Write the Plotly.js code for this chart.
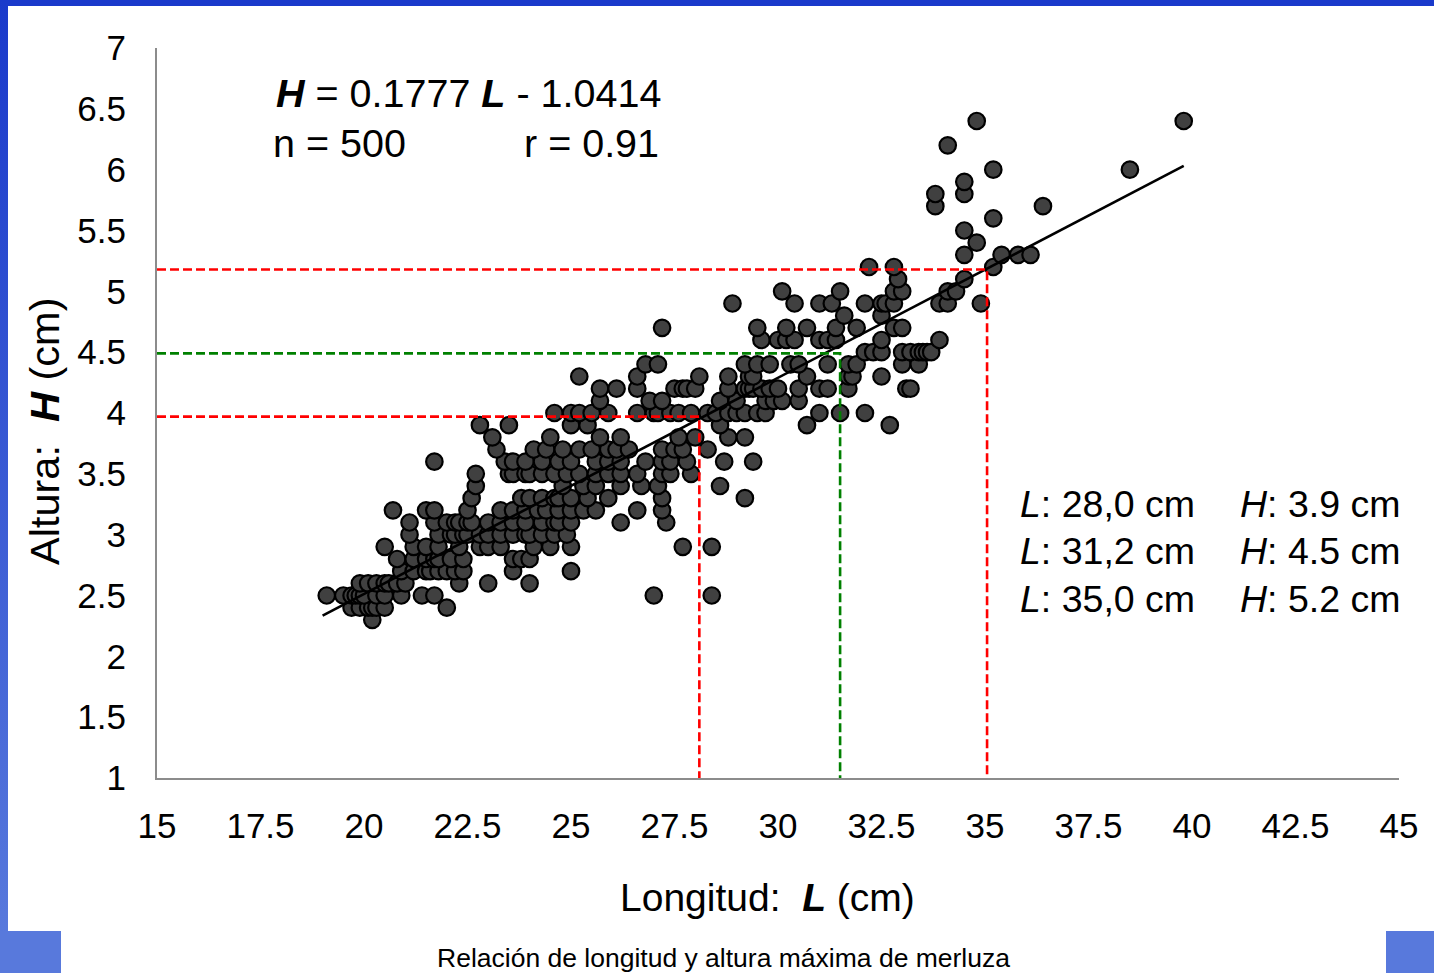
<!DOCTYPE html>
<html>
<head>
<meta charset="utf-8">
<script src="https://cdn.plot.ly/plotly-3.0.1.min.js"></script>
<style>
  html, body { margin:0; padding:0; background:#ffffff; }
  #wrap { position:relative; width:1434px; height:973px; overflow:hidden; }
  #chart { position:absolute; left:0; top:0; width:1434px; height:973px; }
  .frame { position:absolute; z-index:5; }
  #topbar { left:0; top:0; width:1434px; height:6px; background:#1a3acb; }
  #leftbar { left:0; top:0; width:8px; height:973px; background:linear-gradient(#1a3acb, #5a7bdd); }
  #blsq { left:0; top:931px; width:61px; height:42px; background:#5879dc; }
  #brsq { left:1386px; top:931px; width:48px; height:42px; background:#5879dc; }
</style>
</head>
<body>
<div id="wrap">
  <div id="chart"></div>
  <div class="frame" id="topbar"></div>
  <div class="frame" id="leftbar"></div>
  <div class="frame" id="blsq"></div>
  <div class="frame" id="brsq"></div>
</div>
<script>
// ---- Data ----
// Length (L, cm) of each fish, grouped by measured height row
const lengthCm = [
  20.2,
  19.7,19.9,20.1,20.2,20.3,20.5,22.0,
  19.1,19.5,19.7,19.8,19.9,20.0,20.3,20.5,20.9,21.4,21.7,27.0,28.4,
  19.9,20.1,20.3,20.5,20.6,20.8,21.0,22.3,23.0,24.0,
  20.9,21.2,21.5,21.6,21.8,22.0,22.2,22.4,23.6,25.0,
  20.8,21.2,21.5,21.7,21.8,22.1,22.4,23.6,23.8,24.0,
  20.5,21.2,21.5,21.8,22.3,22.8,23.0,23.3,24.1,24.5,25.0,27.7,28.4,
  21.1,21.8,22.1,22.2,22.4,22.5,22.8,23.0,23.3,23.6,23.9,24.0,24.3,24.6,24.9,
  21.1,21.7,22.0,22.2,22.3,22.5,22.6,23.0,23.3,23.6,23.9,24.3,24.6,24.7,25.0,26.2,27.3,
  20.7,21.5,21.7,22.5,23.3,23.6,23.9,24.2,24.4,24.7,25.0,25.3,25.6,26.6,27.2,
  22.6,23.8,24.0,24.3,24.6,24.7,25.0,25.4,25.9,27.2,29.2,
  22.7,24.8,25.3,25.6,26.2,26.7,27.1,28.6,
  22.7,23.5,23.6,23.9,24.0,24.3,24.6,24.9,25.2,25.6,25.9,26.2,26.6,27.2,27.4,27.9,
  21.7,23.4,23.6,23.9,24.3,24.7,25.0,25.6,25.9,26.2,26.8,27.2,27.4,27.8,28.7,29.4,
  23.2,24.1,24.4,24.8,25.2,25.5,25.9,26.1,26.4,27.2,27.5,27.7,28.3,
  23.1,24.5,25.7,26.2,27.6,28.0,28.8,29.2,
  22.8,23.5,25.0,25.4,28.6,30.7,32.7,
  24.6,25.0,25.2,25.5,25.9,26.6,27.0,27.1,27.4,27.6,27.9,28.3,28.5,28.8,29.0,29.2,29.5,29.7,31.0,31.5,32.1,
  25.7,26.9,27.2,28.6,29.0,29.7,29.9,30.1,30.5,
  25.7,26.1,26.6,27.5,27.7,27.8,28.0,28.8,29.2,29.3,29.4,29.6,29.8,30.0,30.5,31.0,31.2,31.7,33.1,33.2,
  25.2,26.6,28.1,28.8,29.3,29.4,30.7,31.7,31.8,32.5,
  26.8,27.1,29.2,29.5,29.8,30.3,30.5,31.2,31.7,31.9,33.0,33.4,
  32.1,32.3,32.5,33.0,33.2,33.4,33.5,33.6,33.7,
  29.6,30.0,30.2,30.4,31.0,31.2,31.4,32.5,33.9,
  27.2,29.5,30.2,30.7,31.4,31.9,32.8,33.0,
  31.6,32.5,
  28.9,30.4,31.0,31.3,32.1,32.5,32.6,32.8,33.9,34.1,34.9,
  30.1,31.5,32.8,33.0,34.1,34.3,
  32.9,34.5,
  32.2,32.8,35.2,
  34.5,35.4,35.8,36.1,
  34.8,
  34.5,
  35.2,
  33.8,36.4,
  33.8,34.5,
  34.5,
  35.2,38.5,
  34.1,
  34.8,39.8
];
// Maximum height (H, cm), aligned with lengthCm
const heightCm = [
  2.3,
  2.4,2.4,2.4,2.4,2.4,2.4,2.4,
  2.5,2.5,2.5,2.5,2.5,2.5,2.5,2.5,2.5,2.5,2.5,2.5,2.5,
  2.6,2.6,2.6,2.6,2.6,2.6,2.6,2.6,2.6,2.6,
  2.7,2.7,2.7,2.7,2.7,2.7,2.7,2.7,2.7,2.7,
  2.8,2.8,2.8,2.8,2.8,2.8,2.8,2.8,2.8,2.8,
  2.9,2.9,2.9,2.9,2.9,2.9,2.9,2.9,2.9,2.9,2.9,2.9,2.9,
  3.0,3.0,3.0,3.0,3.0,3.0,3.0,3.0,3.0,3.0,3.0,3.0,3.0,3.0,3.0,
  3.1,3.1,3.1,3.1,3.1,3.1,3.1,3.1,3.1,3.1,3.1,3.1,3.1,3.1,3.1,3.1,3.1,
  3.2,3.2,3.2,3.2,3.2,3.2,3.2,3.2,3.2,3.2,3.2,3.2,3.2,3.2,3.2,
  3.3,3.3,3.3,3.3,3.3,3.3,3.3,3.3,3.3,3.3,3.3,
  3.4,3.4,3.4,3.4,3.4,3.4,3.4,3.4,
  3.5,3.5,3.5,3.5,3.5,3.5,3.5,3.5,3.5,3.5,3.5,3.5,3.5,3.5,3.5,3.5,
  3.6,3.6,3.6,3.6,3.6,3.6,3.6,3.6,3.6,3.6,3.6,3.6,3.6,3.6,3.6,3.6,
  3.7,3.7,3.7,3.7,3.7,3.7,3.7,3.7,3.7,3.7,3.7,3.7,3.7,
  3.8,3.8,3.8,3.8,3.8,3.8,3.8,3.8,
  3.9,3.9,3.9,3.9,3.9,3.9,3.9,
  4.0,4.0,4.0,4.0,4.0,4.0,4.0,4.0,4.0,4.0,4.0,4.0,4.0,4.0,4.0,4.0,4.0,4.0,4.0,4.0,4.0,
  4.1,4.1,4.1,4.1,4.1,4.1,4.1,4.1,4.1,
  4.2,4.2,4.2,4.2,4.2,4.2,4.2,4.2,4.2,4.2,4.2,4.2,4.2,4.2,4.2,4.2,4.2,4.2,4.2,4.2,
  4.3,4.3,4.3,4.3,4.3,4.3,4.3,4.3,4.3,4.3,
  4.4,4.4,4.4,4.4,4.4,4.4,4.4,4.4,4.4,4.4,4.4,4.4,
  4.5,4.5,4.5,4.5,4.5,4.5,4.5,4.5,4.5,
  4.6,4.6,4.6,4.6,4.6,4.6,4.6,4.6,4.6,
  4.7,4.7,4.7,4.7,4.7,4.7,4.7,4.7,
  4.8,4.8,
  4.9,4.9,4.9,4.9,4.9,4.9,4.9,4.9,4.9,4.9,4.9,
  5.0,5.0,5.0,5.0,5.0,5.0,
  5.1,5.1,
  5.2,5.2,5.2,
  5.3,5.3,5.3,5.3,
  5.4,
  5.5,
  5.6,
  5.7,5.7,
  5.8,5.8,
  5.9,
  6.0,6.0,
  6.2,
  6.4,6.4
];
if (lengthCm.length !== heightCm.length) console.error('length mismatch', lengthCm.length, heightCm.length);

// Regression fit shown on the chart
const fitSlope = 0.1777;
const fitIntercept = -1.0414;
const fitRangeL = [19.0, 39.8];

// Reference (guide) points: length and height marked by dashed lines
const guideL = [28.1, 31.5, 35.05];
const guideH = [3.97, 4.49, 5.18];
const guideColor = ['#ff0000', '#008000', '#ff0000'];
// Text of the guide table
const guideLabelL = ['28,0', '31,2', '35,0'];
const guideLabelH = ['3.9', '4.5', '5.2'];

// Axis ticks
const xTicks = [15, 17.5, 20, 22.5, 25, 27.5, 30, 32.5, 35, 37.5, 40, 42.5, 45];
const yTicks = [1, 1.5, 2, 2.5, 3, 3.5, 4, 4.5, 5, 5.5, 6, 6.5, 7];

// ---- Layout helpers (pixel -> paper) ----
const W = 1434, Hh = 973;
const M = {l:157, r:35, t:48, b:195};
const plotW = W - M.l - M.r, plotH = Hh - M.t - M.b;
const px = x => (x - M.l) / plotW;
const py = y => (Hh - M.b - y) / plotH;

const FONT = 'Liberation Sans, Arial, sans-serif';

const traces = [];
traces.push({
  type:'scatter', mode:'markers', x:lengthCm, y:heightCm,
  marker:{size:16.5, color:'#404040', line:{color:'#000000', width:2.2}},
  hoverinfo:'skip', cliponaxis:false
});
traces.push({
  type:'scatter', mode:'lines',
  x:fitRangeL, y:fitRangeL.map(l => fitSlope*l + fitIntercept),
  line:{color:'#000000', width:2.6}, hoverinfo:'skip'
});
for (let i = 0; i < guideL.length; i++) {
  traces.push({
    type:'scatter', mode:'lines',
    x:[xTicks[0], guideL[i], guideL[i]], y:[guideH[i], guideH[i], yTicks[0]],
    line:{color:guideColor[i], width:2.6, dash:'9px,4px'}, hoverinfo:'skip'
  });
}

const annotations = [
  {xref:'paper', yref:'paper', x:px(274), y:py(93), xanchor:'left', yanchor:'middle', showarrow:false,
   text:'<b><i>H</i></b> = 0.1777 <b><i>L</i></b> - 1.0414', font:{family:FONT, size:39.5, color:'#000'}},
  {xref:'paper', yref:'paper', x:px(271), y:py(143), xanchor:'left', yanchor:'middle', showarrow:false,
   text:'n = 500', font:{family:FONT, size:39.5, color:'#000'}},
  {xref:'paper', yref:'paper', x:px(661), y:py(143), xanchor:'right', yanchor:'middle', showarrow:false,
   text:'r = 0.91', font:{family:FONT, size:39.5, color:'#000'}},
  {xref:'paper', yref:'paper', x:px(723), y:py(958), xanchor:'center', yanchor:'middle', showarrow:false,
   text:'Relación de longitud y altura máxima de merluza', font:{family:FONT, size:26.5, color:'#000'}},
  // axis titles
  {xref:'paper', yref:'paper', x:px(767), y:py(897), xanchor:'center', yanchor:'middle', showarrow:false,
   text:'Longitud:  <b><i>L</i></b> (cm)', font:{family:FONT, size:39, color:'#000'}},
  {xref:'paper', yref:'paper', x:px(44), y:py(431), xanchor:'center', yanchor:'middle', showarrow:false, textangle:-90,
   text:'Altura:  <b><i>H</i></b> (cm)', font:{family:FONT, size:41.5, color:'#000'}}
];
const rowY = [504, 551, 599];
for (let i = 0; i < guideLabelL.length; i++) {
  annotations.push({xref:'paper', yref:'paper', x:px(1018), y:py(rowY[i]), xanchor:'left', yanchor:'middle', showarrow:false,
    text:'<i>L</i>: ' + guideLabelL[i] + ' cm', font:{family:FONT, size:37.5, color:'#000'}});
  annotations.push({xref:'paper', yref:'paper', x:px(1238), y:py(rowY[i]), xanchor:'left', yanchor:'middle', showarrow:false,
    text:'<i>H</i>: ' + guideLabelH[i] + ' cm', font:{family:FONT, size:37.5, color:'#000'}});
}

const layout = {
  width:W, height:Hh,
  margin:{l:M.l, r:M.r, t:M.t, b:M.b, pad:0},
  paper_bgcolor:'#ffffff', plot_bgcolor:'#ffffff',
  showlegend:false, hovermode:false,
  font:{family:FONT, color:'#000'},
  xaxis:{
    range:[xTicks[0], xTicks[xTicks.length-1]], tickvals:xTicks, ticktext:xTicks.map(String),
    showgrid:false, zeroline:false, showline:true, linecolor:'#8c8c8c', linewidth:2,
    ticks:'outside', ticklen:16, tickcolor:'rgba(0,0,0,0)',
    tickfont:{family:FONT, size:35, color:'#000'},
    automargin:false, fixedrange:true
  },
  yaxis:{
    range:[yTicks[0], yTicks[yTicks.length-1]], tickvals:yTicks, ticktext:yTicks.map(String),
    showgrid:false, zeroline:false, showline:true, linecolor:'#8c8c8c', linewidth:2,
    ticks:'outside', ticklen:22, tickcolor:'rgba(0,0,0,0)',
    tickfont:{family:FONT, size:35, color:'#000'},
    automargin:false, fixedrange:true
  },
  annotations:annotations
};

Plotly.newPlot('chart', traces, layout, {staticPlot:true, displayModeBar:false});
</script>
</body>
</html>
